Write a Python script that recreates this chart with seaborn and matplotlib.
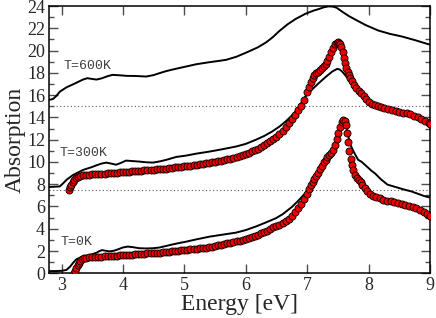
import numpy as np
import pandas as pd
import matplotlib
matplotlib.use("Agg")
import matplotlib.pyplot as plt
import seaborn as sns

# ---------------- data ----------------
# black curves: T=0K, T=300K (offset 7.5), T=600K (offset 15)
e_k0 = [2.8, 2.9, 3.0, 3.08, 3.14, 3.19, 3.24, 3.30, 3.37, 3.45, 3.52, 3.57, 3.62, 3.66,
        3.72, 3.78, 3.85, 3.92, 4.0, 4.08, 4.18, 4.27, 4.38, 4.49, 4.60, 4.70, 4.80, 4.90,
        5.03, 5.20, 5.41, 5.60, 5.84, 6.0, 6.16, 6.30, 6.49, 6.60, 6.76, 6.87, 6.97, 7.05,
        7.15, 7.25, 7.32, 7.38, 7.44, 7.50, 7.56, 7.60, 7.63, 7.66, 7.70, 7.76, 7.83, 7.89,
        7.95, 8.05, 8.11, 8.2, 8.31, 8.44, 8.58, 8.7, 8.8, 8.9, 9.0]
a_k0 = [0.20, 0.20, 0.22, 0.30, 0.60, 0.95, 1.25, 1.40, 1.50, 1.62, 1.75, 1.85, 2.0, 2.08,
        2.02, 1.97, 2.02, 2.15, 2.32, 2.40, 2.33, 2.25, 2.23, 2.25, 2.32, 2.45, 2.58, 2.70,
        2.84, 3.05, 3.29, 3.45, 3.65, 3.88, 4.19, 4.50, 4.94, 5.30, 5.99, 6.60, 7.19, 7.9,
        8.9, 9.8, 10.3, 10.75, 11.3, 12.2, 13.2, 13.85, 13.5, 12.6, 11.6, 10.9, 10.2, 10.0,
        9.7, 9.2, 8.95, 8.45, 7.96, 7.75, 7.52, 7.35, 7.15, 6.95, 6.8]

e_k300 = [2.8, 2.9, 2.97, 3.03, 3.08, 3.19, 3.35, 3.50, 3.57, 3.65, 3.73, 3.81, 3.89, 3.97,
          4.05, 4.15, 4.27, 4.38, 4.49, 4.60, 4.70, 4.87, 5.03, 5.20, 5.41, 5.60, 5.84, 6.0,
          6.16, 6.30, 6.43, 6.55, 6.65, 6.73, 6.81, 6.89, 6.97, 7.08, 7.19, 7.30, 7.41, 7.49,
          7.53, 7.57, 7.65, 7.73, 7.84, 7.95, 8.05, 8.15, 8.3, 8.5, 8.7, 8.85, 9.0]
a_k300 = [7.75, 7.78, 7.80, 8.10, 8.39, 8.84, 9.28, 9.55, 9.70, 9.85, 9.94, 9.85, 9.75, 9.92,
          10.12, 10.08, 10.03, 9.97, 9.94, 10.05, 10.18, 10.45, 10.57, 10.75, 10.93, 11.12, 11.38, 11.62,
          11.98, 12.33, 12.73, 13.18, 13.63, 14.05, 14.53, 15.15, 15.87, 16.5, 17.08, 17.62, 18.12, 18.36,
          18.3, 18.12, 17.6, 17.08, 16.4, 15.9, 15.35, 15.1, 14.85, 14.55, 14.25, 14.0, 13.6]

e_k600 = [2.8, 2.86, 2.92, 2.97, 3.08, 3.2, 3.35, 3.42, 3.5, 3.57, 3.65, 3.75, 3.83, 3.95,
          4.06, 4.2, 4.38, 4.5, 4.6, 4.70, 4.85, 5.03, 5.2, 5.4, 5.57, 5.68, 5.85, 6.05,
          6.2, 6.33, 6.44, 6.54, 6.68, 6.81, 6.97, 7.10, 7.19, 7.28, 7.35, 7.42, 7.48, 7.57,
          7.68, 7.79, 7.95, 8.16, 8.35, 8.54, 8.75, 8.97, 9.0]
a_k600 = [15.58, 15.65, 15.95, 16.3, 16.7, 17.0, 17.4, 17.52, 17.45, 17.4, 17.5, 17.7, 17.82, 17.78,
          17.73, 17.72, 17.67, 17.8, 17.98, 18.15, 18.35, 18.57, 18.78, 18.95, 19.08, 19.17, 19.45, 19.92,
          20.3, 20.73, 21.2, 21.72, 22.35, 22.83, 23.3, 23.58, 23.73, 23.9, 23.97, 23.95, 23.85, 23.5,
          23.1, 22.77, 22.3, 21.8, 21.5, 21.27, 20.95, 20.58, 20.55]

# red circles: calculated T=0K and T=300K (offset 7.5)
e_c0 = [3.20, 3.22, 3.24, 3.26, 3.28, 3.30, 3.33, 3.36, 3.40, 3.45, 3.50, 3.55, 3.60, 3.65,
        3.70, 3.75, 3.80, 3.85, 3.90, 3.95, 4.00, 4.05, 4.10, 4.15, 4.20, 4.25, 4.30, 4.35,
        4.40, 4.45, 4.50, 4.55, 4.60, 4.65, 4.70, 4.75, 4.80, 4.85, 4.90, 4.95, 5.00, 5.05,
        5.10, 5.15, 5.20, 5.25, 5.30, 5.35, 5.40, 5.45, 5.50, 5.55, 5.60, 5.65, 5.70, 5.75,
        5.80, 5.85, 5.90, 5.95, 6.00, 6.05, 6.10, 6.15, 6.20, 6.25, 6.30, 6.35, 6.40, 6.45,
        6.50, 6.55, 6.60, 6.65, 6.70, 6.75, 6.80, 6.85, 6.90, 6.95, 7.00, 7.03, 7.06, 7.09,
        7.12, 7.15, 7.18, 7.21, 7.24, 7.27, 7.30, 7.33, 7.36, 7.39, 7.42, 7.45, 7.48, 7.51,
        7.54, 7.57, 7.59, 7.61, 7.63, 7.65, 7.67, 7.69, 7.71, 7.73, 7.75, 7.78, 7.81, 7.84,
        7.87, 7.90, 7.94, 7.98, 8.02, 8.07, 8.12, 8.18, 8.24, 8.30, 8.36, 8.42, 8.48, 8.54,
        8.60, 8.66, 8.72, 8.78, 8.84, 8.90, 8.96, 9.00]
a_c0 = [0.05, 0.25, 0.48, 0.70, 0.90, 1.08, 1.25, 1.35, 1.40, 1.43, 1.45, 1.46, 1.47, 1.49,
        1.51, 1.53, 1.55, 1.57, 1.59, 1.60, 1.62, 1.64, 1.66, 1.68, 1.70, 1.72, 1.74, 1.76,
        1.78, 1.80, 1.82, 1.84, 1.86, 1.88, 1.90, 1.93, 1.96, 1.99, 2.02, 2.05, 2.08, 2.11,
        2.14, 2.17, 2.20, 2.23, 2.26, 2.30, 2.35, 2.40, 2.45, 2.50, 2.56, 2.62, 2.68, 2.74,
        2.80, 2.86, 2.93, 3.00, 3.08, 3.16, 3.25, 3.35, 3.46, 3.58, 3.70, 3.84, 3.99, 4.15,
        4.25, 4.35, 4.50, 4.68, 4.90, 5.15, 5.48, 5.85, 6.25, 6.68, 7.15, 7.55, 7.90, 8.20,
        8.50, 8.78, 9.05, 9.35, 9.65, 9.95, 10.20, 10.45, 10.65, 10.82, 11.05, 11.50, 12.05, 12.60,
        13.10, 13.55, 13.78, 13.70, 13.30, 12.60, 11.80, 11.00, 10.30, 9.70, 9.25, 8.85, 8.55, 8.35,
        8.20, 7.95, 7.65, 7.40, 7.15, 6.95, 6.82, 6.72, 6.60, 6.52, 6.45, 6.38, 6.30, 6.22,
        6.14, 6.05, 5.95, 5.83, 5.68, 5.50, 5.30, 5.18]

e_c300 = [3.12, 3.14, 3.16, 3.18, 3.20, 3.23, 3.26, 3.30, 3.35, 3.40, 3.45, 3.50, 3.55, 3.60,
          3.65, 3.70, 3.75, 3.80, 3.85, 3.90, 3.95, 4.00, 4.05, 4.10, 4.15, 4.20, 4.25, 4.30,
          4.35, 4.40, 4.45, 4.50, 4.55, 4.60, 4.65, 4.70, 4.75, 4.80, 4.85, 4.90, 4.95, 5.00,
          5.05, 5.10, 5.15, 5.20, 5.25, 5.30, 5.35, 5.40, 5.45, 5.50, 5.55, 5.60, 5.65, 5.70,
          5.75, 5.80, 5.85, 5.90, 5.95, 6.00, 6.05, 6.10, 6.15, 6.20, 6.25, 6.30, 6.35, 6.40,
          6.45, 6.50, 6.55, 6.60, 6.65, 6.70, 6.75, 6.80, 6.85, 6.90, 6.95, 7.00, 7.03, 7.06,
          7.09, 7.12, 7.15, 7.18, 7.21, 7.24, 7.27, 7.30, 7.33, 7.36, 7.39, 7.42, 7.45, 7.48,
          7.50, 7.52, 7.54, 7.56, 7.58, 7.60, 7.62, 7.64, 7.66, 7.68, 7.70, 7.73, 7.76, 7.80,
          7.84, 7.88, 7.92, 7.96, 8.00, 8.05, 8.10, 8.15, 8.20, 8.26, 8.32, 8.38, 8.44, 8.50,
          8.56, 8.62, 8.68, 8.74, 8.80, 8.86, 8.92, 8.98, 9.00]
a_c300 = [7.50, 7.75, 7.97, 8.17, 8.35, 8.52, 8.64, 8.73, 8.79, 8.83, 8.86, 8.88, 8.90, 8.92,
          8.94, 8.96, 8.98, 9.00, 9.02, 9.04, 9.06, 9.08, 9.10, 9.13, 9.16, 9.19, 9.21, 9.23,
          9.25, 9.27, 9.30, 9.32, 9.34, 9.36, 9.38, 9.41, 9.45, 9.48, 9.51, 9.54, 9.57, 9.60,
          9.63, 9.66, 9.70, 9.74, 9.78, 9.82, 9.86, 9.90, 9.95, 10.00, 10.05, 10.10, 10.16, 10.22,
          10.30, 10.38, 10.47, 10.56, 10.65, 10.74, 10.84, 10.95, 11.07, 11.20, 11.34, 11.50, 11.68, 11.85,
          12.02, 12.22, 12.48, 12.80, 13.15, 13.50, 13.85, 14.22, 14.62, 15.05, 15.52, 16.30, 16.75, 17.15,
          17.50, 17.78, 17.98, 18.12, 18.28, 18.45, 18.62, 18.80, 19.05, 19.40, 19.85, 20.25, 20.55, 20.72,
          20.75, 20.70, 20.55, 20.30, 19.85, 19.35, 18.85, 18.40, 18.05, 17.78, 17.55, 17.25, 16.95, 16.65,
          16.40, 16.15, 15.90, 15.65, 15.42, 15.22, 15.10, 15.03, 14.96, 14.88, 14.78, 14.68, 14.60, 14.52,
          14.43, 14.35, 14.26, 14.15, 14.02, 13.87, 13.70, 13.52, 13.45]

offsets = [7.5, 15.0]
labels = ["T=0K", "T=300K", "T=600K"]
label_pos = [(2.98, 2.84), (2.97, 10.8), (3.03, 18.6)]
x_ticks = [3, 4, 5, 6, 7, 8, 9]
y_ticks = list(range(0, 25, 2))

# ---------------- plot ----------------
sns.set_style("ticks")
plt.rcParams["font.family"] = ["Liberation Serif", "DejaVu Serif"]

fig = plt.figure(figsize=(4.36, 3.18), dpi=100)
ax = fig.add_axes([0.113, 0.1406, 0.873, 0.8404])

for y0 in offsets:
    ax.axhline(y0, color="0.35", lw=0.8, ls=(0, (1, 2.2)), zorder=1)

for e, a in [(e_k0, a_k0), (e_k300, a_k300), (e_k600, a_k600)]:
    sns.lineplot(x=e, y=a, sort=False, estimator=None, color="black", lw=1.4, ax=ax, zorder=2)

for e, a in [(e_c0, a_c0), (e_c300, a_c300)]:
    sns.scatterplot(x=e, y=a, color="#ee0000", edgecolor="black", linewidth=0.6,
                    s=26, marker="o", ax=ax, zorder=3)

for lab, (x, y) in zip(labels, label_pos):
    ax.text(x, y, lab, family=["Liberation Mono", "DejaVu Sans Mono"], fontsize=9.5,
            color="0.25", va="center", ha="left")

ax.set_xlim(2.8, 9)
ax.set_ylim(0, 24)
ax.set_xticks(x_ticks)
ax.set_yticks(y_ticks)
ax.set_yticks(np.arange(1, 24, 2), minor=True)
ax.tick_params(axis="both", which="both", direction="in", top=True, right=True,
               labelsize=13, width=1.0, color="0.3", pad=3)
ax.tick_params(which="major", length=6.5)
ax.tick_params(which="minor", length=3.8)
for sp in ax.spines.values():
    sp.set_linewidth(1.1)
    sp.set_color("black")

ax.set_xlabel("Energy [eV]", fontsize=17, labelpad=0)
ax.set_ylabel("Absorption", fontsize=17, labelpad=1)

fig.savefig("out.png", dpi=100)
